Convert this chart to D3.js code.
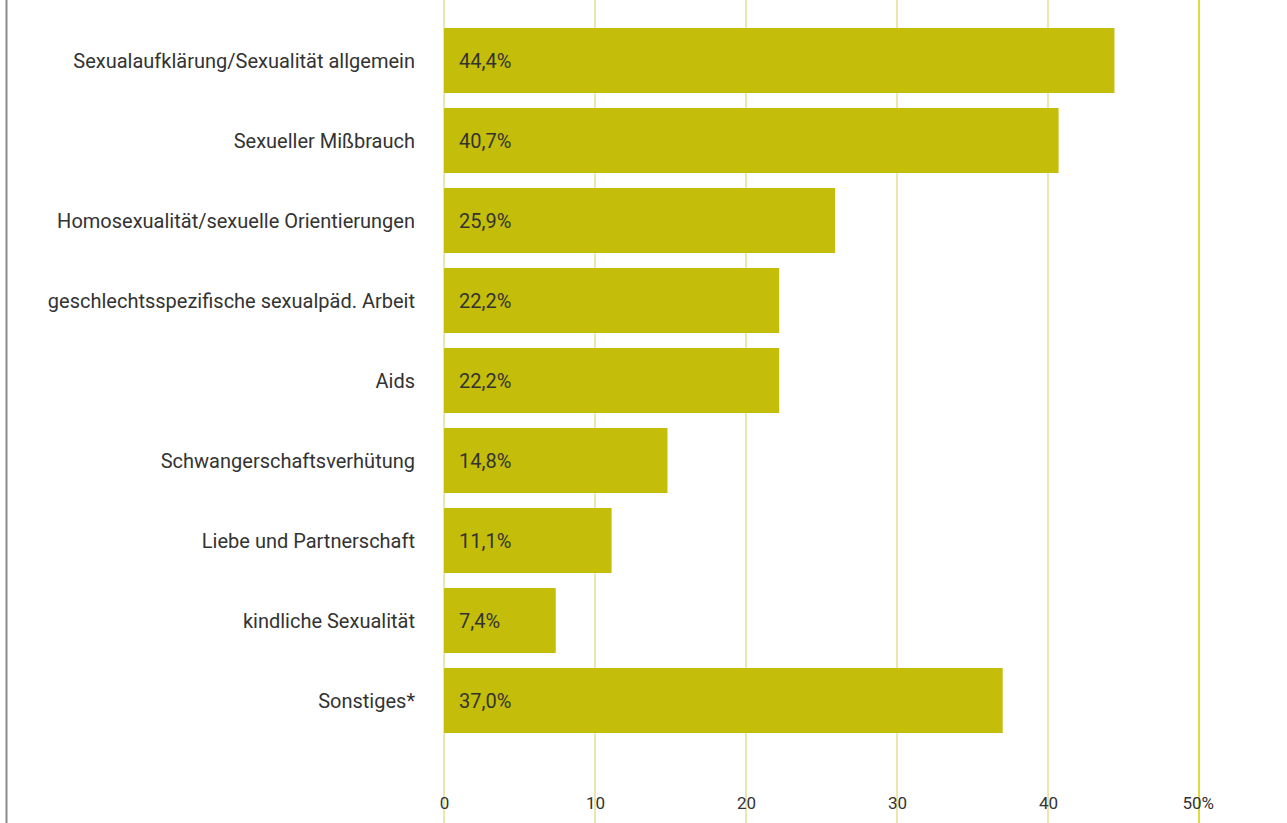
<!DOCTYPE html>
<html>
<head>
<meta charset="utf-8">
<script src="https://cdn.jsdelivr.net/npm/d3@7"></script>
<style>
  body { margin: 0; background: #fff; }
  svg { display: block; }
  text { font-family: Roboto, "Liberation Sans", sans-serif; fill: #333; }
</style>
</head>
<body>
<svg id="chart" width="1287" height="823"></svg>
<script>
// Themen (Anteil in %)
const categories = [
  "Sexualaufklärung/Sexualität allgemein",
  "Sexueller Mißbrauch",
  "Homosexualität/sexuelle Orientierungen",
  "geschlechtsspezifische sexualpäd. Arbeit",
  "Aids",
  "Schwangerschaftsverhütung",
  "Liebe und Partnerschaft",
  "kindliche Sexualität",
  "Sonstiges*"
];
const values = [44.4, 40.7, 25.9, 22.2, 22.2, 14.8, 11.1, 7.4, 37.0];
const tickValues = [0, 10, 20, 30, 40, 50];

const width = 1287, height = 823;
const svg = d3.select("#chart");

const de = d3.formatLocale({ decimal: ",", thousands: ".", grouping: [3], currency: ["", " €"] });
const fmt = de.format(".1f");

const x = d3.scaleLinear().domain([0, 50]).range([444, 1199]);
const y = d3.scaleBand()
  .domain(categories)
  .range([20.5, 740.5])
  .paddingInner(0.1875)
  .paddingOuter(0.09375);

// left frame line
svg.append("line")
  .attr("x1", 6.5).attr("x2", 6.5)
  .attr("y1", 0).attr("y2", height)
  .attr("stroke", "#8a8a8a")
  .attr("stroke-width", 2);

// grid lines
svg.append("g")
  .selectAll("line")
  .data(tickValues)
  .join("line")
    .attr("x1", d => x(d)).attr("x2", d => x(d))
    .attr("y1", 0).attr("y2", height)
    .attr("stroke", d => d === 50 ? "#e2da3c" : "#d8d05a")
    .attr("stroke-width", d => d === 50 ? 2 : 1);

// bars
svg.append("g")
  .selectAll("rect")
  .data(values)
  .join("rect")
    .attr("x", x(0))
    .attr("y", (d, i) => y(categories[i]))
    .attr("width", d => x(d) - x(0))
    .attr("height", y.bandwidth())
    .attr("fill", "#c4be0a");

// value labels
svg.append("g")
  .selectAll("text")
  .data(values)
  .join("text")
    .attr("x", x(0) + 15)
    .attr("y", (d, i) => y(categories[i]) + y.bandwidth() / 2)
    .attr("dy", "0.35em")
    .style("font-size", "20px")
    .text(d => fmt(d) + "%");

// category labels
svg.append("g")
  .selectAll("text")
  .data(categories)
  .join("text")
    .attr("x", 415)
    .attr("y", d => y(d) + y.bandwidth() / 2)
    .attr("dy", "0.35em")
    .attr("text-anchor", "end")
    .style("font-size", "20px")
    .text(d => d);

// x axis labels
const axis = svg.append("g")
  .attr("transform", "translate(0,803)")
  .call(d3.axisBottom(x).tickValues(tickValues).tickSize(0).tickPadding(0)
    .tickFormat(d => d === 50 ? "50%" : d));
axis.select(".domain").remove();
axis.selectAll("text")
  .attr("y", 0)
  .attr("dy", "0.35em")
  .style("font-size", "17px")
  .style("font-family", "Roboto, sans-serif")
  .attr("fill", "#333");
axis.selectAll(".tick").filter(d => d === 50).select("text")
  .attr("text-anchor", "start")
  .attr("x", -17);
</script>
</body>
</html>
